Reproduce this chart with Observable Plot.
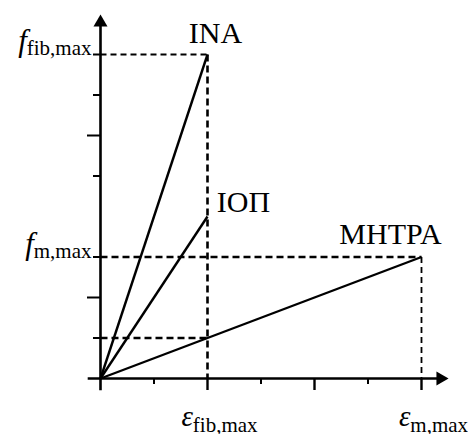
<!DOCTYPE html>
<html>
<head>
<meta charset="utf-8">
<script src="https://cdn.jsdelivr.net/npm/d3@7"></script>
<script src="https://cdn.jsdelivr.net/npm/@observablehq/plot@0.6"></script>
<style>
  html, body { margin: 0; padding: 0; background: white; }
</style>
</head>
<body>
<div id="chart"></div>
<script>
// Materials and their failure points (strain, stress) in arbitrary units
const materials = ["ΙΝΑ", "ΙΟΠ", "ΜΗΤΡΑ"];
const maxStrain = [2, 2, 6];
const maxStress = [8, 4, 3];

// Stress level of the matrix when the fibre fails
const matrixStressAtFibreFailure = 1;

// Axis labels ("symbol|subscript")
const yLabels = ["f|fib,max", "f|m,max"];
const yLabelValues = [8, 3];
const xLabels = ["ε|fib,max", "ε|m,max"];
const xLabelValues = [2, 6];

// Tick positions
const yTicksLong = [2, 6];
const yTicksShort = [1, 3, 5, 7, 8];
const xTicksLong = [2, 4, 6];
const xTicksShort = [1, 3, 5];

const rows = materials.map((m, i) => ({ name: m, x: maxStrain[i], y: maxStress[i] }));

// guide lines (dashed)
const guidesThick = [
  { x1: 2, y1: 8, x2: 2, y2: 0 },
  { x1: 0, y1: 3, x2: 6, y2: 3 },
  { x1: 0, y1: matrixStressAtFibreFailure, x2: 2, y2: matrixStressAtFibreFailure }
];
const guidesThin = [
  { x1: 0, y1: 8, x2: 2, y2: 8 },
  { x1: 6, y1: 3, x2: 6, y2: 0 }
];

const noText = { tickFormat: () => "", fill: "none", label: null };

const plot = Plot.plot({
  width: 468,
  height: 434,
  marginLeft: 100,
  marginRight: 47,
  marginTop: 54,
  marginBottom: 56,
  x: { domain: [0, 6] },
  y: { domain: [0, 8] },
  style: { fontFamily: "Liberation Serif", background: "white", color: "black" },
  marks: [
    // dashed guides
    Plot.link(guidesThick, { x1: "x1", y1: "y1", x2: "x2", y2: "y2", stroke: "black", strokeWidth: 2.6, strokeDasharray: "7,4" }),
    Plot.link(guidesThin, { x1: "x1", y1: "y1", x2: "x2", y2: "y2", stroke: "black", strokeWidth: 1.8, strokeDasharray: "6,4" }),
    // axes
    Plot.ruleX([0], { y1: -0.3, y2: 8.75, stroke: "black", strokeWidth: 2.6 }),
    Plot.ruleY([0], { x1: -0.23, x2: 6.3, stroke: "black", strokeWidth: 2.6 }),
    Plot.dot([0], { x: 0, y: 8.79, symbol: "triangle", r: 5.2, fill: "black", stroke: null }),
    Plot.dot([0], { x: 6.355, y: 0, symbol: "triangle", r: 5.2, fill: "black", stroke: null, rotate: 90 }),
    Plot.axisY({ ticks: yTicksLong, tickSize: 13, strokeWidth: 2, ...noText }),
    Plot.axisY({ ticks: yTicksShort, tickSize: 7, strokeWidth: 2, ...noText }),
    Plot.axisX({ ticks: xTicksLong, tickSize: 12, strokeWidth: 2.4, ...noText }),
    Plot.axisX({ ticks: xTicksShort, tickSize: 6, strokeWidth: 2, ...noText }),
    // material lines
    Plot.link(rows, { x1: 0, y1: 0, x2: "x", y2: "y", stroke: "black", strokeWidth: 2.4 }),
    // material labels
    Plot.text([rows[0]], { x: "x", y: "y", text: "name", fontSize: 30, dx: 8, dy: -21 }),
    Plot.text([rows[1]], { x: "x", y: "y", text: "name", fontSize: 30, dx: 36, dy: -14 }),
    Plot.text([rows[2]], { x: "x", y: "y", text: "name", fontSize: 30, dx: -31, dy: -23 }),
    // axis labels
    Plot.text(yLabelValues, { x: 0, y: d => d, text: (d, i) => yLabels[i], textAnchor: "end", dx: -9, dy: -13, fontSize: 31 }),
    Plot.text(xLabelValues, { x: d => d, y: 0, text: (d, i) => xLabels[i], textAnchor: "middle", dx: 12, dy: 38, fontSize: 29 })
  ]
});

// turn "symbol|subscript" into italic symbol + subscript tspans
d3.select(plot).selectAll("text").each(function () {
  const t = this.textContent;
  if (t && t.includes("|")) {
    const [sym, sub] = t.split("|");
    const el = d3.select(this);
    el.text(null);
    el.append("tspan").attr("font-style", "italic").text(sym);
    el.append("tspan").attr("font-size", 21).attr("dy", sym === "ε" ? 6 : 4).text(sub);
  }
});

document.getElementById("chart").appendChild(plot);
</script>
</body>
</html>
